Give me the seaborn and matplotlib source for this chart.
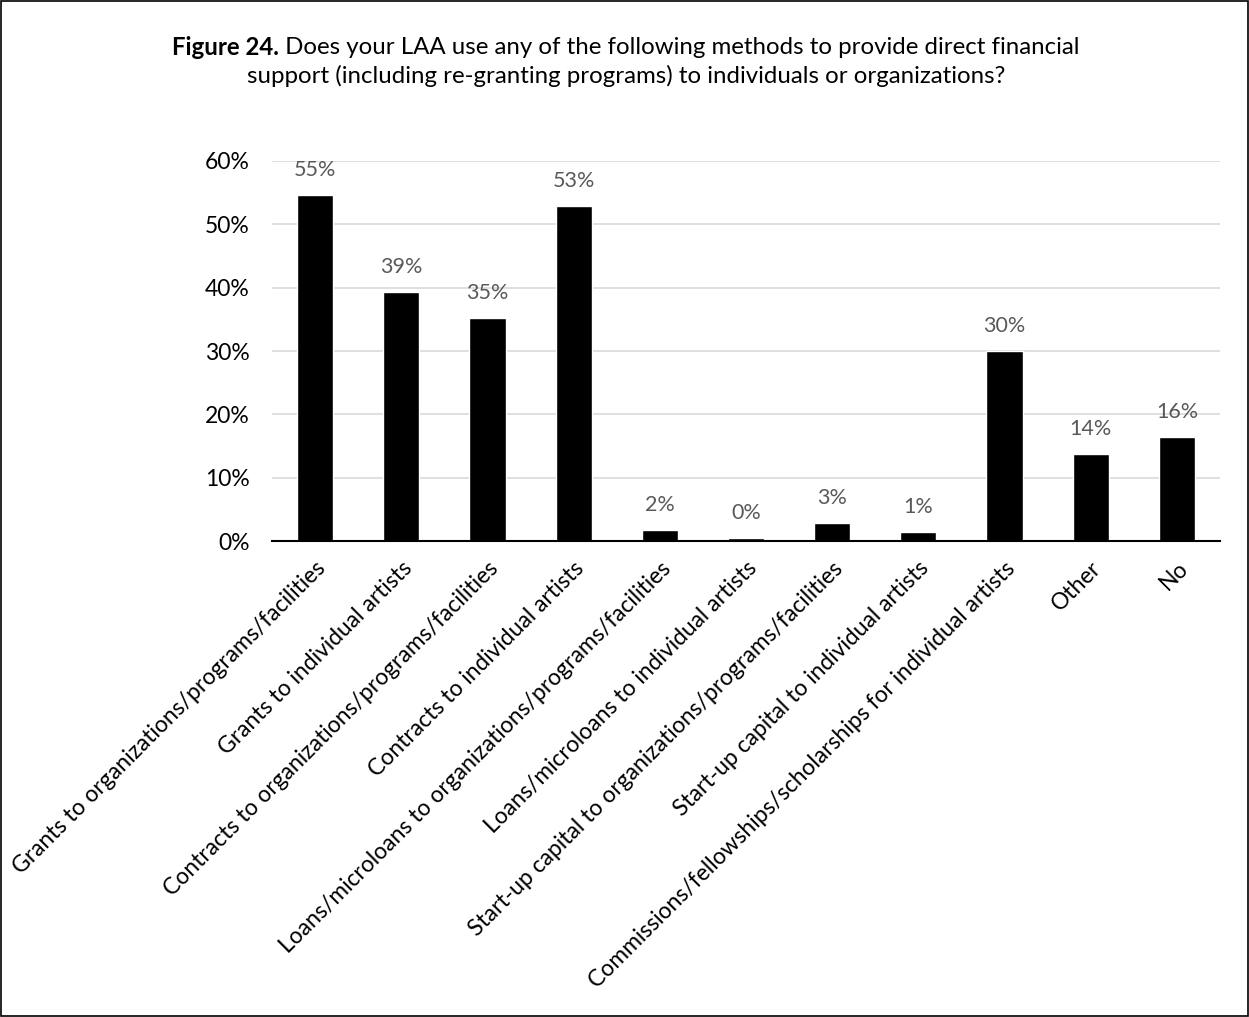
import matplotlib
matplotlib.use("Agg")
import matplotlib.pyplot as plt
import seaborn as sns
import pandas as pd
from matplotlib.patches import Rectangle

categories = [
    "Grants to organizations/programs/facilities",
    "Grants to individual artists",
    "Contracts to organizations/programs/facilities",
    "Contracts to individual artists",
    "Loans/microloans to organizations/programs/facilities",
    "Loans/microloans to individual artists",
    "Start-up capital to organizations/programs/facilities",
    "Start-up capital to individual artists",
    "Commissions/fellowships/scholarships for individual artists",
    "Other",
    "No",
]
values = [54.6, 39.3, 35.2, 52.9, 1.7, 0.5, 2.8, 1.4, 30.0, 13.7, 16.4]
yticks = [0, 10, 20, 30, 40, 50, 60]

title_bold = "Figure 24."
title_line1 = " Does your LAA use any of the following methods to provide direct financial"
title_line2 = "support (including re-granting programs) to individuals or organizations?"

sns.set_theme(style="white")
plt.rcParams["font.family"] = ["Lato", "DejaVu Sans"]

df = pd.DataFrame({"method": categories, "share": values})

fig = plt.figure(figsize=(12.49, 10.17), dpi=100)
ax = fig.add_axes([0.2178, 0.468, 0.7590, 0.3737])

sns.barplot(data=df, x="method", y="share", color="black", width=0.42,
            saturation=1, ax=ax, zorder=3)

ax.set_ylim(0, 60)
ax.set_yticks(yticks)
ax.set_yticklabels([f"{t}%" for t in yticks], fontsize=16.5, color="black")
ax.yaxis.grid(True, color="#d9d9d9", linewidth=1.2, zorder=0)
ax.set_axisbelow(True)
ax.set_xlabel("")
ax.set_ylabel("")
ax.tick_params(axis="both", length=0)
ax.tick_params(axis="y", pad=16)
ax.set_xticks(range(len(categories)))
ax.set_xticklabels(categories, rotation=45, ha="right", rotation_mode="anchor",
                   fontsize=16.5, color="black")
ax.tick_params(axis="x", pad=12)

for s in ["top", "right", "left"]:
    ax.spines[s].set_visible(False)
ax.spines["bottom"].set_color("black")
ax.spines["bottom"].set_linewidth(1.5)
ax.spines["bottom"].set_zorder(4)

for i, v in enumerate(values):
    ax.annotate(f"{v:.0f}%", (i, v), xytext=(0, 11), textcoords="offset points",
                ha="center", va="bottom", fontsize=15.5, color="#595959")

# Two-line title: bold figure number followed by regular text, centred as one line
renderer = fig.canvas.get_renderer()
fs_title = 17.3
tb = fig.text(0, 0.953, title_bold, fontsize=fs_title, fontweight="bold",
              ha="left", va="center", color="black")
tr = fig.text(0, 0.953, title_line1, fontsize=fs_title, ha="left", va="center",
              color="black")
wb = tb.get_window_extent(renderer).width / fig.bbox.width
wr = tr.get_window_extent(renderer).width / fig.bbox.width
x0 = 0.501 - (wb + wr) / 2
tb.set_x(x0)
tr.set_x(x0 + wb)
fig.text(0.501, 0.925, title_line2, fontsize=fs_title, ha="center", va="center",
         color="black")

fig.add_artist(Rectangle((0.0008, 0.001), 0.9984, 0.998, transform=fig.transFigure,
                         fill=False, edgecolor="black", linewidth=1.2))

fig.savefig("out.png", dpi=100)
